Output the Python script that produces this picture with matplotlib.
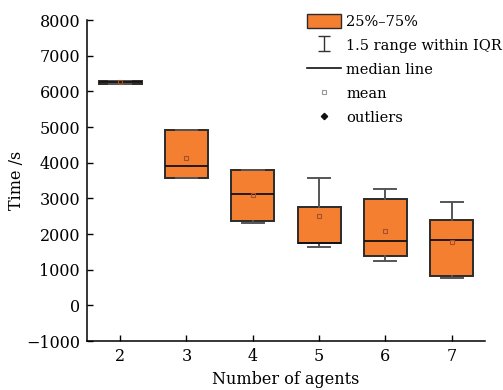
import numpy as np
import matplotlib
matplotlib.use("Agg")
import matplotlib.pyplot as plt
from matplotlib.patches import Patch
from matplotlib.lines import Line2D

# Completion time statistics per team size
agents = [2, 3, 4, 5, 6, 7]
q1 = [6200, 3580, 2363, 1747, 1383, 833]
median = [6250, 3897, 3120, 1750, 1803, 1842]
q3 = [6300, 4915, 3793, 2767, 2972, 2383]
whisker_low = [6200, 3580, 2318, 1626, 1234, 757]
whisker_high = [6300, 4915, 3793, 3560, 3252, 2907]
mean = [6250, 4130, 3084, 2495, 2075, 1786]

legend_labels = ["25%\u201375%", "1.5 range within IQR", "median line", "mean", "outliers"]

box_color = "#F47F31"
edge_color = "#2b2b2b"
whisker_color = "#555555"
mean_color = "#A0522D"

plt.rcParams["font.family"] = ["DejaVu Serif"]
plt.rcParams["font.size"] = 11.5

fig = plt.figure(figsize=(5.03, 3.90), dpi=100)
ax = fig.add_axes([0.173, 0.1256, 0.791, 0.8231])

stats = []
for i in range(len(agents)):
    stats.append(dict(
        label=str(agents[i]), q1=q1[i], med=median[i], q3=q3[i],
        whislo=whisker_low[i], whishi=whisker_high[i], mean=mean[i], fliers=[],
    ))

ax.bxp(
    stats, positions=agents, widths=0.65, capwidths=0.33,
    patch_artist=True, showmeans=True, showfliers=False,
    boxprops=dict(facecolor=box_color, edgecolor=edge_color, linewidth=1.4),
    medianprops=dict(color="#111111", linewidth=1.3),
    whiskerprops=dict(color=whisker_color, linewidth=1.4),
    capprops=dict(color=whisker_color, linewidth=1.4),
    meanprops=dict(marker="s", markersize=3.5, markerfacecolor="none",
                   markeredgecolor=mean_color, markeredgewidth=0.8),
)

ax.set_xlim(1.5, 7.5)
ax.set_ylim(-1000, 8000)
ax.set_xticks(agents)
ax.set_xticklabels([str(a) for a in agents])
ax.set_yticks(np.arange(-1000, 8001, 1000))
ax.set_yticklabels(["\u22121000"] + [str(v) for v in range(0, 8001, 1000)])
for s in ["top", "right"]:
    ax.spines[s].set_visible(False)
for s in ["left", "bottom"]:
    ax.spines[s].set_linewidth(1.1)
ax.tick_params(direction="in", length=4, width=1.0, pad=5)

ax.set_xlabel("Number of agents", labelpad=4)
ax.set_ylabel("Time /s", labelpad=1)

# Legend entries
h_box = Patch(facecolor=box_color, edgecolor=edge_color, linewidth=1.0)
h_whisk = ax.errorbar([np.nan], [np.nan], yerr=[1], fmt="none",
                      ecolor="#333333", elinewidth=1.0, capsize=4)
h_med = Line2D([], [], color="#111111", linewidth=1.2)
h_mean = Line2D([], [], linestyle="none", marker="s", markersize=3.5,
                markerfacecolor="none", markeredgecolor="#999999", markeredgewidth=0.8)
h_out = Line2D([], [], linestyle="none", marker="D", markersize=3.2,
               markerfacecolor="#111111", markeredgecolor="#111111")
ax.legend([h_box, h_whisk, h_med, h_mean, h_out], legend_labels,
          loc="upper right", bbox_to_anchor=(1.058, 1.038), frameon=False,
          fontsize=10.5, handlelength=2.3, handleheight=1.1, handletextpad=0.4,
          labelspacing=0.63, borderaxespad=0.0)

fig.savefig("out.png", dpi=100)
